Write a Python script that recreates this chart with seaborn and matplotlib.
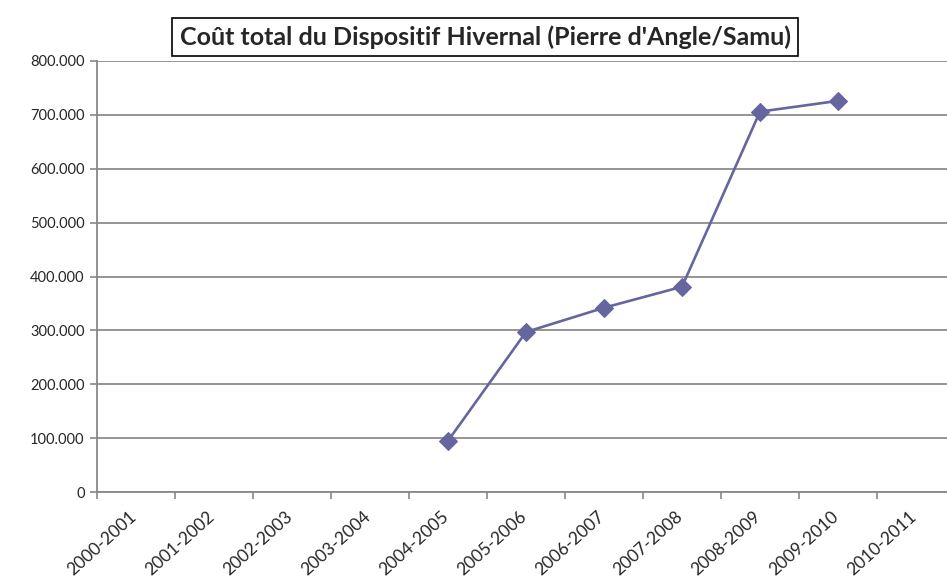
import numpy as np
import pandas as pd
import matplotlib.pyplot as plt
import matplotlib.transforms as mtransforms
from matplotlib.ticker import FuncFormatter, FixedLocator
import seaborn as sns

# winter seasons on the x axis
seasons = ['2000-2001', '2001-2002', '2002-2003', '2003-2004', '2004-2005',
           '2005-2006', '2006-2007', '2007-2008', '2008-2009', '2009-2010',
           '2010-2011']
# seasons that have a cost value
cost_seasons = ['2004-2005', '2005-2006', '2006-2007', '2007-2008',
                '2008-2009', '2009-2010']
costs = [95000, 297000, 342000, 381000, 706000, 726000]

data = pd.DataFrame({'Saison': cost_seasons, 'Cout': costs})
data['pos'] = [seasons.index(s) for s in data['Saison']]

sns.set_style('white')
plt.rcParams['font.family'] = ['Lato', 'DejaVu Sans']

fig = plt.figure(figsize=(9.47, 5.84), dpi=100)
ax = fig.add_axes([97 / 947, 92 / 584, 858 / 947, 431 / 584])

line_col = '#66669f'
sns.lineplot(x='pos', y='Cout', data=data, ax=ax, color=line_col,
             linewidth=1.9, marker='D', markersize=9, markeredgecolor=line_col,
             zorder=3)

ax.set_xlim(-0.5, len(seasons) - 0.5)
ax.set_ylim(0, 800000)
ax.set_yticks(np.arange(0, 800001, 100000))
ax.yaxis.set_major_formatter(FuncFormatter(
    lambda v, p: '0' if v == 0 else f'{int(v):,}'.replace(',', '.')))

# tick marks between categories, labels at category centres
ax.xaxis.set_major_locator(FixedLocator(np.arange(-0.5, len(seasons), 1)))
ax.xaxis.set_minor_locator(FixedLocator(np.arange(len(seasons))))
ax.set_xticklabels([], minor=False)
ax.set_xticklabels(seasons, minor=True, rotation=42, ha='right',
                   rotation_mode='anchor', fontsize=12.5)
ax.tick_params(axis='x', which='minor', length=0, pad=12)
ax.tick_params(axis='x', which='major', length=5, width=1.2, color='#888888',
               direction='out', bottom=True)
ax.tick_params(axis='y', length=5, width=1.2, color='#888888', left=True,
               labelsize=10.5, pad=4)
offset = mtransforms.ScaledTranslation(-0.07, 0, fig.dpi_scale_trans)
for lab in ax.get_xticklabels(minor=True):
    lab.set_transform(lab.get_transform() + offset)

ax.grid(axis='y', color='#8c8c8c', linewidth=1.3)
ax.grid(axis='x', visible=False)
for side in ['top', 'right']:
    ax.spines[side].set_visible(False)
for side in ['left', 'bottom']:
    ax.spines[side].set_color('#888888')
    ax.spines[side].set_linewidth(1.3)

ax.set_xlabel('')
ax.set_ylabel('')

fig.text(485 / 947, 1 - 37 / 584,
         "Coût total du Dispositif Hivernal (Pierre d'Angle/Samu)",
         ha='center', va='center', fontsize=18, fontweight='bold',
         bbox=dict(facecolor='white', edgecolor='black', linewidth=1.2,
                   boxstyle='square,pad=0.3'))

fig.savefig('out.png', dpi=100)
